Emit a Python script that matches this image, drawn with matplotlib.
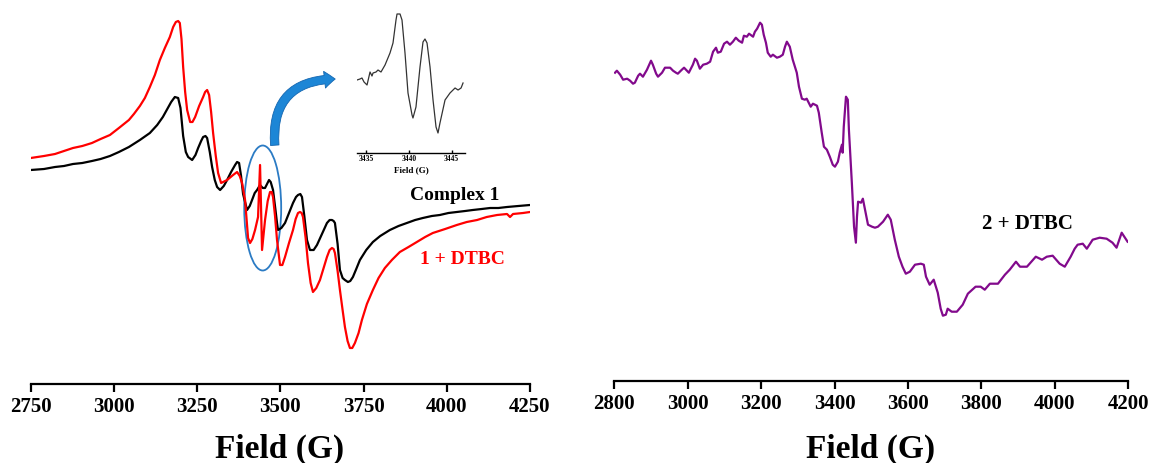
import numpy as np
import matplotlib.pyplot as plt
from matplotlib.patches import Ellipse, FancyArrowPatch

# ---- left panel: complex 1 and 1 + DTBC (field in G, intensity in a.u.) ----
field_c1 = [2750, 2790, 2823, 2850, 2877, 2905, 2934, 2960, 2988, 3015, 3045, 3078, 3108, 3130,
            3147, 3162, 3172, 3183, 3193, 3200, 3208, 3216, 3223, 3235,
            3245, 3253, 3262, 3268, 3275, 3280, 3288, 3295, 3303, 3310, 3319, 3330, 3340, 3352,
            3364, 3370, 3376, 3382, 3388, 3400, 3408, 3415, 3423, 3430, 3439,
            3447, 3454, 3460, 3466, 3471, 3478, 3485, 3490, 3493, 3503, 3514, 3526, 3538, 3547,
            3553, 3560, 3565, 3572, 3580, 3589, 3600, 3610, 3625, 3640, 3648, 3655,
            3660, 3664, 3672, 3679, 3687, 3694, 3703, 3710, 3718, 3728, 3739, 3758, 3778, 3800,
            3829, 3855, 3880, 3905, 3928, 3955, 3979, 4005, 4030, 4055, 4078, 4105, 4130, 4155,
            4181, 4215, 4250]
int_c1 = [214, 215, 217, 218, 220, 221, 223, 225, 228, 232, 237, 244, 251, 259,
          267, 276, 282, 287, 286, 276, 248, 232, 227, 224,
          229, 236, 243, 247, 248, 246, 232, 217, 204, 197, 194, 198, 204, 212,
          219, 222, 221, 208, 190, 174, 178, 184, 191, 194, 199,
          196, 196, 200, 204, 202, 194, 175, 161, 154, 156, 161, 171, 181, 187,
          189, 190, 187, 168, 144, 134, 134, 139, 150, 161, 164, 164,
          163, 161, 140, 114, 106, 104, 102, 103, 107, 115, 124, 134, 142, 148,
          154, 158, 161, 164, 166, 168, 169, 171, 172, 173, 174, 175, 176, 176,
          177, 178, 179]

field_c1_dtbc = [2750, 2790, 2823, 2850, 2877, 2905, 2934, 2960, 2988, 3015, 3045, 3060, 3078,
                 3093, 3108, 3123, 3138, 3153, 3168, 3178, 3186, 3193, 3198, 3203,
                 3208, 3214, 3220, 3229, 3236, 3244, 3256, 3268, 3274, 3280, 3286, 3292, 3298, 3306,
                 3313, 3322, 3340, 3358, 3370, 3378,
                 3385, 3394, 3403, 3409, 3416, 3424, 3433, 3439, 3445, 3454, 3462, 3469, 3474, 3478,
                 3484, 3490, 3499,
                 3506, 3514, 3526, 3538, 3546, 3553, 3559, 3564, 3568, 3576, 3583, 3591, 3598, 3608,
                 3619, 3630, 3640, 3648, 3655, 3660, 3664, 3672, 3679, 3687, 3694,
                 3702, 3709, 3716, 3724, 3735, 3745, 3760, 3778, 3795, 3814, 3835, 3859, 3885, 3910,
                 3935, 3958, 3995, 4030, 4060, 4091, 4120, 4151, 4181, 4190,
                 4199, 4229, 4250]
int_c1_dtbc = [226, 228, 230, 233, 236, 238, 241, 245, 249, 256, 264, 270, 278,
               286, 297, 309, 324, 336, 347, 357, 362, 363, 361, 345,
               317, 292, 274, 262, 262, 267, 278, 287, 292, 294, 289, 272, 251, 228,
               211, 201, 204, 209, 212, 208,
               201, 184, 146, 141, 145, 154, 167, 219, 134, 164, 183, 192, 192, 187,
               168, 144, 119,
               119, 127, 141, 154, 165, 171, 172, 171, 167, 146, 121, 101, 92, 96,
               104, 116, 127, 134, 136, 135, 131, 113, 94, 74, 57,
               43, 36, 36, 41, 51, 64, 80, 94, 106, 116, 124, 132, 137, 142,
               147, 151, 155, 159, 162, 164, 167, 169, 170, 167,
               170, 171, 172]

# ---- inset: zoom of the sharp signal ----
field_inset = [3433.95, 3434.3, 3434.53, 3434.77, 3435.12, 3435.47, 3435.7, 3435.82, 3436.17,
               3436.4, 3436.75, 3437.22, 3437.8, 3438.15, 3438.5, 3438.62, 3438.97, 3439.2,
               3439.55, 3439.9, 3440.37, 3440.48, 3440.83, 3441.3, 3441.65, 3441.88, 3442.12,
               3442.47, 3442.82, 3443.17, 3443.4, 3443.63, 3444.22, 3444.8, 3445.39, 3445.74,
               3446.09, 3446.32]
int_inset = [73, 74, 75, 71, 68, 81, 77, 80, 81,
             83, 81, 88, 100, 110, 133, 139, 139, 133,
             100, 60, 38, 35, 46, 86, 111, 114, 110,
             86, 53, 26, 20, 30, 53, 60, 65, 63,
             65, 70]

# ---- right panel: 2 + DTBC ----
field_c2 = [2802, 2807, 2816, 2824, 2835, 2843, 2851, 2856, 2865, 2870, 2878, 2889, 2900, 2905,
            2914, 2919, 2930, 2938, 2952, 2960, 2968, 2973, 2984, 2990, 2998, 3003, 3014, 3020,
            3025, 3033, 3042, 3052, 3061, 3069, 3077, 3082, 3090, 3099, 3107, 3115, 3123, 3131,
            3139, 3148, 3153, 3161, 3167, 3178, 3183, 3189, 3197, 3202, 3207, 3213, 3218, 3226,
            3232, 3243, 3251, 3259, 3265, 3270, 3278, 3286, 3297, 3303, 3311, 3319, 3324, 3335,
            3341, 3352, 3357, 3365, 3371, 3379, 3387, 3395, 3401, 3409, 3414, 3420, 3422, 3425,
            3431, 3436, 3439, 3447, 3453, 3458, 3461, 3464, 3472, 3477, 3483, 3491, 3502, 3510,
            3518, 3532, 3545, 3553, 3564, 3575, 3585, 3594, 3605, 3619, 3635, 3643, 3649, 3659,
            3670, 3681, 3689, 3695, 3703, 3708, 3719, 3733, 3749, 3763, 3784, 3798, 3809, 3823,
            3845, 3864, 3877, 3894, 3905, 3924, 3948, 3965, 3978, 3994, 4013, 4027, 4043, 4054,
            4062, 4076, 4087, 4103, 4122, 4141, 4157, 4168, 4182, 4198]
int_c2 = [308, 310, 306, 301, 302, 300, 297, 298, 305, 307, 304, 311, 320, 316,
          307, 304, 308, 313, 313, 310, 308, 307, 311, 313, 310, 308, 316, 322,
          320, 312, 316, 317, 319, 329, 333, 328, 329, 337, 339, 336, 339, 343,
          340, 338, 345, 344, 347, 344, 349, 352, 358, 356, 346, 338, 328, 324,
          326, 323, 324, 326, 334, 339, 334, 321, 308, 294, 282, 281, 282, 274,
          277, 275, 268, 248, 234, 231, 224, 216, 214, 219, 228, 236, 228, 254,
          284, 281, 251, 198, 154, 138, 164, 179, 178, 182, 171, 156, 154, 153,
          154, 159, 166, 161, 141, 124, 114, 107, 109, 116, 117, 116, 104, 96,
          101, 88, 72, 65, 66, 72, 69, 69, 76, 87, 94, 94, 91, 97,
          97, 106, 111, 119, 114, 114, 124, 121, 124, 125, 117, 114, 124, 132,
          136, 137, 132, 141, 143, 142, 138, 133, 148, 139]

left_ticks = [2750, 3000, 3250, 3500, 3750, 4000, 4250]
right_ticks = [2800, 3000, 3200, 3400, 3600, 3800, 4000, 4200]
inset_ticks = [3435, 3440, 3445]

plt.rcParams['font.family'] = 'Liberation Serif'
plt.rcParams['font.weight'] = 'bold'
plt.rcParams['lines.solid_joinstyle'] = 'round'

W, H = 1154, 463
fig = plt.figure(figsize=(W / 100, H / 100), dpi=100)


def style_axis(ax, ticks, size=15, tlen=6, lw=1.6, pad=3.5):
    for s in ['left', 'right', 'top']:
        ax.spines[s].set_visible(False)
    ax.spines['bottom'].set_linewidth(lw)
    ax.set_yticks([])
    ax.set_xticks(ticks)
    ax.tick_params(axis='x', direction='out', length=tlen, width=lw, labelsize=size, pad=pad)
    for lab in ax.get_xticklabels():
        lab.set_fontweight('bold')
    ax.patch.set_alpha(0)


# left panel
axL = fig.add_axes([30.7 / W, (H - 384) / H, 499.3 / W, 384 / H])
axL.plot(field_c1, int_c1, color='black', lw=1.6)
axL.plot(field_c1_dtbc, int_c1_dtbc, color='red', lw=1.6)
axL.set_xlim(2750, 4250)
axL.set_ylim(0, 384)
style_axis(axL, left_ticks)
axL.add_patch(Ellipse((3447, 176), 111, 125, fill=False, edgecolor='#2b7bc4', lw=1.3))
axL.text(4025, 189, 'Complex 1', color='black', fontsize=14, fontweight='bold', ha='center', va='center')
axL.text(4048, 125, '1 + DTBC', color='red', fontsize=14, fontweight='bold', ha='center', va='center')
fig.text(280 / W, 1 - 449 / H, 'Field (G)', fontsize=24, fontweight='bold', ha='center', va='center')

# inset
axI = fig.add_axes([357 / W, (H - 153) / H, 108 / W, 143 / H])
axI.plot(field_inset, int_inset, color='#333333', lw=0.9)
axI.set_xlim(3433.95, 3446.55)
axI.set_ylim(0, 143)
style_axis(axI, inset_ticks, size=5.5, tlen=2, lw=1.0, pad=1.5)
axI.tick_params(axis='x', direction='in')
axI.set_xlabel('Field (G)', fontsize=6.5, fontweight='bold', labelpad=2)

# curved blue arrow
arrow = FancyArrowPatch((275 / W, 1 - 148 / H), (338 / W, 1 - 79 / H),
                        transform=fig.transFigure,
                        connectionstyle='arc3,rad=-0.55',
                        arrowstyle='simple,head_width=1.1,head_length=0.7,tail_width=0.55',
                        mutation_scale=11, facecolor='#1d86d6', edgecolor='#1466b0', lw=0.6)
fig.add_artist(arrow)

# right panel
axR = fig.add_axes([614.3 / W, (H - 380.7) / H, 514 / W, 380.7 / H])
axR.plot(field_c2, int_c2, color='#820a8c', lw=1.6)
axR.set_xlim(2800, 4200)
axR.set_ylim(0, 380.7)
style_axis(axR, right_ticks)
axR.text(3924, 157, '2 + DTBC', color='black', fontsize=15, fontweight='bold', ha='center', va='center')
fig.text(871 / W, 1 - 449 / H, 'Field (G)', fontsize=24, fontweight='bold', ha='center', va='center')

fig.savefig('out.png', dpi=100)
